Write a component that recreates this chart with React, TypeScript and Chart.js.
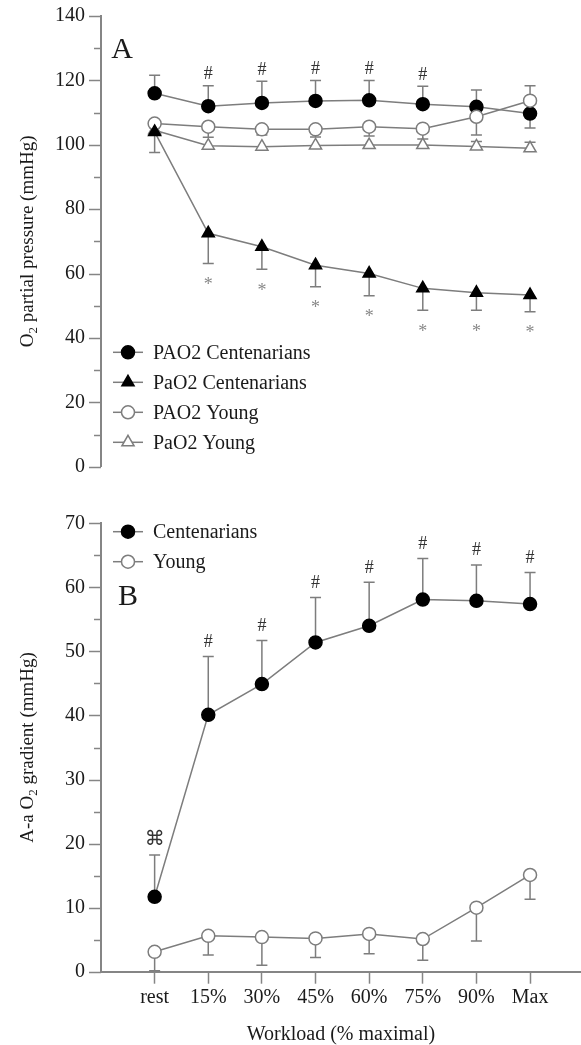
import React, { useEffect, useRef } from 'react';
import { Chart, registerables } from 'chart.js';

Chart.register(...registerables);

// ---------- data ----------
const categories = ['rest', '15%', '30%', '45%', '60%', '75%', '90%', 'Max'];

// Panel A: O2 partial pressure (mmHg)
const paoCent = [116, 112, 113, 113.6, 113.8, 112.6, 111.8, 109.7];
const paoCentErr = [121.6, 118.3, 119.7, 120, 120, 118.2, 117, 105.2];
const paCent = [104, 72.5, 68.3, 62.6, 60, 55.4, 54, 53.3];
const paCentErr = [97.6, 63.1, 61.3, 55.9, 53.1, 48.6, 48.6, 48.1];
const paoYoung = [106.6, 105.6, 104.8, 104.8, 105.6, 105, 108.7, 113.7];
const paoYoungErr = [null, 102.3, 103, 102.4, 102.7, 101.8, 103, 118.3];
const paYoung = [104.5, 99.7, 99.4, 99.8, 99.9, 99.9, 99.5, 98.9];
const paYoungErr = [null, null, null, null, null, null, 101, 100.8];

// Panel B: A-a O2 gradient (mmHg)
const gradCent = [11.7, 40.1, 44.9, 51.4, 54.0, 58.1, 57.9, 57.4];
const gradCentErr = [18.2, 49.2, 51.7, 58.4, 60.8, 64.5, 63.5, 62.3];
const gradYoung = [3.1, 5.6, 5.4, 5.2, 5.9, 5.1, 10.0, 15.1];
const gradYoungErr = [0.15, 2.6, 1.0, 2.2, 2.8, 1.8, 4.8, 11.3];

const hashIdxA = [1, 2, 3, 4, 5];
const starIdxA = [1, 2, 3, 4, 5, 6, 7];
const hashIdxB = [1, 2, 3, 4, 5, 6, 7];
const cmdIdxB = [0];

const yTicksA = [0, 20, 40, 60, 80, 100, 120, 140];
const yTicksB = [0, 10, 20, 30, 40, 50, 60, 70];

// ---------- style ----------
const GREY = '#7d7d7d';
const AXIS = '#858585';
const TEXT = '#1a1a1a';
const SERIF = '"Liberation Serif", "Times New Roman", serif';

function makeDs(label: string, values: number[], errs: (number | null)[], style: string, filled: boolean, order: number) {
  return {
    label,
    data: values.map((v, i) => ({ x: i, y: v })),
    borderColor: GREY,
    borderWidth: 1.5,
    pointStyle: style,
    pointRadius: style === 'triangle' ? 7 : 6.5,
    pointBackgroundColor: filled ? '#000' : '#fff',
    pointBorderColor: filled ? '#000' : GREY,
    pointBorderWidth: 1.5,
    fill: false,
    tension: 0,
    order,
    errorEnds: errs,
  } as any;
}

function drawMarker(ctx: CanvasRenderingContext2D, x: number, y: number, style: string, filled: boolean) {
  ctx.save();
  ctx.lineWidth = 1.5;
  ctx.fillStyle = filled ? '#000' : '#fff';
  ctx.strokeStyle = filled ? '#000' : GREY;
  ctx.beginPath();
  if (style === 'triangle') {
    const r = 7;
    ctx.moveTo(x, y - r);
    ctx.lineTo(x + 0.866 * r, y + 0.5 * r);
    ctx.lineTo(x - 0.866 * r, y + 0.5 * r);
    ctx.closePath();
  } else {
    ctx.arc(x, y, 6.5, 0, Math.PI * 2);
  }
  ctx.fill();
  ctx.stroke();
  ctx.restore();
}

function centeredText(ctx: CanvasRenderingContext2D, text: string, x: number, cy: number, font: string, color: string) {
  ctx.save();
  ctx.font = font;
  ctx.fillStyle = color;
  ctx.textAlign = 'center';
  ctx.textBaseline = 'alphabetic';
  const m = ctx.measureText(text);
  const base = cy + (m.actualBoundingBoxAscent - m.actualBoundingBoxDescent) / 2;
  ctx.fillText(text, x, base);
  ctx.restore();
}

function drawVerticalTitle(ctx: CanvasRenderingContext2D, baseX: number, cy: number, parts: { t: string; sub?: boolean }[], size: number) {
  ctx.save();
  ctx.translate(baseX, cy);
  ctx.rotate(-Math.PI / 2);
  const mainFont = `${size}px ${SERIF}`;
  const subFont = `${Math.round(size * 0.7)}px ${SERIF}`;
  let total = 0;
  const widths = parts.map((p) => {
    ctx.font = p.sub ? subFont : mainFont;
    const w = ctx.measureText(p.t).width;
    total += w;
    return w;
  });
  let x = -total / 2;
  ctx.fillStyle = TEXT;
  ctx.textAlign = 'left';
  ctx.textBaseline = 'alphabetic';
  parts.forEach((p, i) => {
    ctx.font = p.sub ? subFont : mainFont;
    ctx.fillText(p.t, x, p.sub ? size * 0.22 : 0);
    x += widths[i];
  });
  ctx.restore();
}

type Ann = { ds: number; idx: number[]; text: string; dir: number; gap: number; font: string; color: string };
type LegendEntry = { label: string; style: string; filled: boolean };

function makeDecorPlugin(cfg: {
  step: number;
  majorEvery: number;
  anns: Ann[];
  legend: LegendEntry[];
  legendY: number;
  letter: { t: string; x: number; y: number };
  titleParts: { t: string; sub?: boolean }[];
  xTitle?: string;
}) {
  return {
    id: 'decor' + cfg.letter.t,
    beforeDatasetsDraw(chart: any) {
      const ctx: CanvasRenderingContext2D = chart.ctx;
      const ys = chart.scales.y;
      // error bars
      chart.data.datasets.forEach((ds: any, di: number) => {
        const meta = chart.getDatasetMeta(di);
        (ds.errorEnds || []).forEach((e: number | null, i: number) => {
          if (e === null || e === undefined) return;
          const pt = meta.data[i];
          const y1 = ys.getPixelForValue(e);
          ctx.save();
          ctx.strokeStyle = GREY;
          ctx.lineWidth = 1.5;
          ctx.beginPath();
          ctx.moveTo(pt.x, pt.y);
          ctx.lineTo(pt.x, y1);
          ctx.moveTo(pt.x - 5.5, y1);
          ctx.lineTo(pt.x + 5.5, y1);
          ctx.stroke();
          ctx.restore();
        });
      });
    },
    afterDatasetsDraw(chart: any) {
      const ctx: CanvasRenderingContext2D = chart.ctx;
      const ys = chart.scales.y;
      const ca = chart.chartArea;
      // y ticks (major + minor)
      ctx.save();
      ctx.strokeStyle = AXIS;
      ctx.lineWidth = 1.5;
      for (let v = ys.min; v <= ys.max + 1e-6; v += cfg.step) {
        const y = Math.round(ys.getPixelForValue(v)) + 0.5;
        const major = Math.abs(v / cfg.majorEvery - Math.round(v / cfg.majorEvery)) < 1e-6;
        const len = major ? 12 : 7;
        ctx.beginPath();
        ctx.moveTo(ca.left - len, y);
        ctx.lineTo(ca.left, y);
        ctx.stroke();
      }
      ctx.restore();
      // annotations
      cfg.anns.forEach((a) => {
        const ds: any = chart.data.datasets[a.ds];
        const meta = chart.getDatasetMeta(a.ds);
        a.idx.forEach((i) => {
          const e = ds.errorEnds[i];
          const x = meta.data[i].x;
          const y = ys.getPixelForValue(e) + a.dir * a.gap;
          centeredText(ctx, a.text, x, y, a.font, a.color);
        });
      });
      // legend
      cfg.legend.forEach((l, k) => {
        const y = cfg.legendY + k * 30;
        ctx.save();
        ctx.strokeStyle = GREY;
        ctx.lineWidth = 1.5;
        ctx.beginPath();
        ctx.moveTo(113, y);
        ctx.lineTo(143, y);
        ctx.stroke();
        ctx.restore();
        drawMarker(ctx, 128, y, l.style, l.filled);
        ctx.save();
        ctx.font = `20px ${SERIF}`;
        ctx.fillStyle = TEXT;
        ctx.textAlign = 'left';
        ctx.textBaseline = 'middle';
        ctx.fillText(l.label, 153, y + 1);
        ctx.restore();
      });
      // panel letter
      centeredText(ctx, cfg.letter.t, cfg.letter.x, cfg.letter.y, `30px ${SERIF}`, TEXT);
      // y title
      drawVerticalTitle(ctx, 33, (ca.top + ca.bottom) / 2, cfg.titleParts, 19);
      // x title
      if (cfg.xTitle) {
        centeredText(ctx, cfg.xTitle, (ca.left + ca.right) / 2, chart.height - 10, `20px ${SERIF}`, TEXT);
      }
    },
  };
}

function yScale(max: number, step: number, major: number, ticks: number[]) {
  return {
    type: 'linear',
    min: 0,
    max,
    afterFit: (s: any) => {
      s.width = 101;
    },
    afterBuildTicks: (s: any) => {
      s.ticks = ticks.map((v) => ({ value: v }));
    },
    ticks: {
      stepSize: major,
      padding: 4,
      color: TEXT,
      font: { family: SERIF, size: 20 },
    },
    grid: { drawOnChartArea: false, drawTicks: true, tickLength: 12, tickColor: 'transparent' },
    border: { display: true, color: AXIS, width: 2 },
  };
}

export default function App() {
  const refA = useRef<HTMLCanvasElement>(null);
  const refB = useRef<HTMLCanvasElement>(null);

  useEffect(() => {
    const dsA = [
      makeDs('PAO2 Centenarians', paoCent, paoCentErr, 'circle', true, 3),
      makeDs('PaO2 Centenarians', paCent, paCentErr, 'triangle', true, 0),
      makeDs('PAO2 Young', paoYoung, paoYoungErr, 'circle', false, 1),
      makeDs('PaO2 Young', paYoung, paYoungErr, 'triangle', false, 2),
    ];
    const chartA = new Chart(refA.current as HTMLCanvasElement, {
      type: 'line',
      data: { datasets: dsA },
      options: {
        animation: false,
        responsive: true,
        maintainAspectRatio: false,
        events: [],
        layout: { autoPadding: false, padding: { top: 15.7, bottom: 23.3, left: 0, right: 0 } },
        plugins: { legend: { display: false }, tooltip: { enabled: false } },
        scales: {
          x: { type: 'linear', min: -1, max: 7.95, display: false },
          y: yScale(140, 10, 20, yTicksA) as any,
        },
      },
      plugins: [
        makeDecorPlugin({
          step: 10,
          majorEvery: 20,
          anns: [
            { ds: 0, idx: hashIdxA, text: '#', dir: -1, gap: 13, font: `18px ${SERIF}`, color: '#333' },
            { ds: 1, idx: starIdxA, text: '*', dir: 1, gap: 17, font: `18px ${SERIF}`, color: '#888' },
          ],
          legend: [
            { label: 'PAO2 Centenarians', style: 'circle', filled: true },
            { label: 'PaO2 Centenarians', style: 'triangle', filled: true },
            { label: 'PAO2 Young', style: 'circle', filled: false },
            { label: 'PaO2 Young', style: 'triangle', filled: false },
          ],
          legendY: 352.3,
          letter: { t: 'A', x: 122, y: 48 },
          titleParts: [{ t: 'O' }, { t: '2', sub: true }, { t: ' partial pressure (mmHg)' }],
        }) as any,
      ],
    } as any);

    const dsB = [
      makeDs('Centenarians', gradCent, gradCentErr, 'circle', true, 1),
      makeDs('Young', gradYoung, gradYoungErr, 'circle', false, 0),
    ];
    const chartB = new Chart(refB.current as HTMLCanvasElement, {
      type: 'line',
      data: { datasets: dsB },
      options: {
        animation: false,
        responsive: true,
        maintainAspectRatio: false,
        events: [],
        layout: { autoPadding: false, padding: { top: 33.3, bottom: 0, left: 0, right: 0 } },
        plugins: { legend: { display: false }, tooltip: { enabled: false } },
        scales: {
          x: {
            type: 'linear',
            min: -1,
            max: 7.95,
            position: 'bottom',
            afterFit: (s: any) => {
              s.height = 73.3;
            },
            afterBuildTicks: (s: any) => {
              s.ticks = categories.map((_, i) => ({ value: i }));
            },
            ticks: {
              autoSkip: false,
              maxRotation: 0,
              padding: 2,
              color: TEXT,
              font: { family: SERIF, size: 20 },
              callback: (v: any) => categories[v] ?? '',
            },
            grid: { drawOnChartArea: false, drawTicks: true, tickLength: 12, tickColor: AXIS, tickWidth: 1.5 },
            border: { display: true, color: AXIS, width: 2 },
          },
          y: yScale(70, 5, 10, yTicksB) as any,
        },
      },
      plugins: [
        makeDecorPlugin({
          step: 5,
          majorEvery: 10,
          anns: [
            { ds: 0, idx: hashIdxB, text: '#', dir: -1, gap: 16, font: `18px ${SERIF}`, color: '#333' },
            { ds: 0, idx: cmdIdxB, text: '\u2318', dir: -1, gap: 18, font: `20px "DejaVu Sans", sans-serif`, color: '#333' },
          ],
          legend: [
            { label: 'Centenarians', style: 'circle', filled: true },
            { label: 'Young', style: 'circle', filled: false },
          ],
          legendY: 41.7,
          letter: { t: 'B', x: 128, y: 105 },
          titleParts: [{ t: 'A-a O' }, { t: '2', sub: true }, { t: ' gradient (mmHg)' }],
          xTitle: 'Workload (% maximal)',
        }) as any,
      ],
    } as any);

    return () => {
      chartA.destroy();
      chartB.destroy();
    };
  }, []);

  return (
    <div style={{ position: 'absolute', left: 0, top: 0, width: 581, height: 1045, background: '#fff' }}>
      <div style={{ position: 'absolute', left: 0, top: 0, width: 581, height: 490 }}>
        <canvas ref={refA} />
      </div>
      <div style={{ position: 'absolute', left: 0, top: 490, width: 581, height: 555 }}>
        <canvas ref={refB} />
      </div>
    </div>
  );
}
